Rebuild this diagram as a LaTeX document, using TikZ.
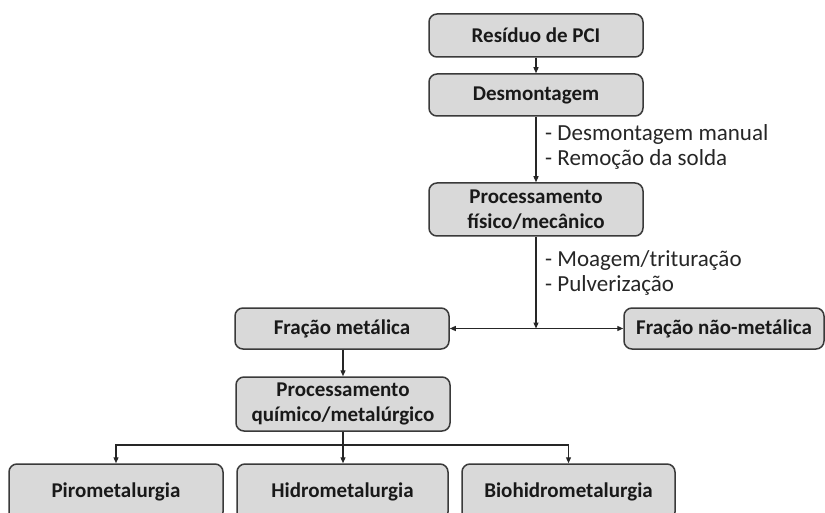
\documentclass[tikz,border=0pt]{standalone}
\usepackage{fontspec}
\setmainfont{Carlito}
\usetikzlibrary{arrows.meta}
\definecolor{boxgray}{HTML}{D9D9D9}
\definecolor{edgegray}{HTML}{3A3A3A}
\begin{document}
\begin{tikzpicture}[x=1pt,y=-1pt,
  box/.style={draw=edgegray, line width=1.5pt, fill=boxgray, rounded corners=8pt,
    font=\bfseries\fontsize{21}{25}\selectfont, align=center, inner sep=0pt, text=black!90},
  conn/.style={line width=1.2pt, draw=black!85, -{Triangle[length=6pt,width=5pt]}},
  plain/.style={line width=1.2pt, draw=black!85},
  lbl/.style={font=\fontsize{23}{25}\selectfont, align=left, anchor=west, inner sep=0pt, text=black!85}]
\useasboundingbox (0,0) rectangle (825,513);
\clip (0,0) rectangle (825,513);
\fill[white] (0,0) rectangle (825,513);

\node[box, minimum width=214pt, minimum height=43pt] (b1) at (536,35.5) {Resíduo de PCI};
\node[box, minimum width=214pt, minimum height=42pt] (b2) at (536,95) {Desmontagem};
\node[box, minimum width=214pt, minimum height=53pt] (b3) at (536,209.5) {Processamento\\físico/mecânico};
\node[box, minimum width=214pt, minimum height=41pt] (fm) at (342,328.5) {Fração metálica};
\node[box, minimum width=200pt, minimum height=41pt] (fnm) at (724,328.5) {Fração não-metálica};
\node[box, minimum width=214pt, minimum height=54pt] (pq) at (343,404) {Processamento\\químico/metalúrgico};
\node[box, minimum width=214pt, minimum height=56pt] (piro) at (116,492) {Pirometalurgia};
\node[box, minimum width=211pt, minimum height=56pt] (hidro) at (342.5,492) {Hidrometalurgia};
\node[box, minimum width=213pt, minimum height=56pt] (bio) at (568.5,492) {Biohidrometalurgia};

\node[lbl] (l1) at (545,147) {- Desmontagem manual\\- Remoção da solda};
\node[lbl] (l2) at (545,272.5) {- Moagem/trituração\\- Pulverização};

\draw[conn] (b1) -- (b2);
\draw[conn] (b2) -- (b3);
\coordinate (j) at (b3.south |- fm.east);
\draw[conn] (b3.south) -- (j);
\draw[conn] (j) -- (fm.east);
\draw[conn] (j) -- (fnm.west);
\draw[conn] (fm.south -| pq.north) -- (pq.north);
\coordinate (h) at (343,445);
\draw[plain] (pq.south) -- (h);
\draw[conn] (h) -- (h |- hidro.north);
\draw[conn] (h) -| (piro.north);
\draw[conn] (h) -| (bio.north);
\end{tikzpicture}
\end{document}
